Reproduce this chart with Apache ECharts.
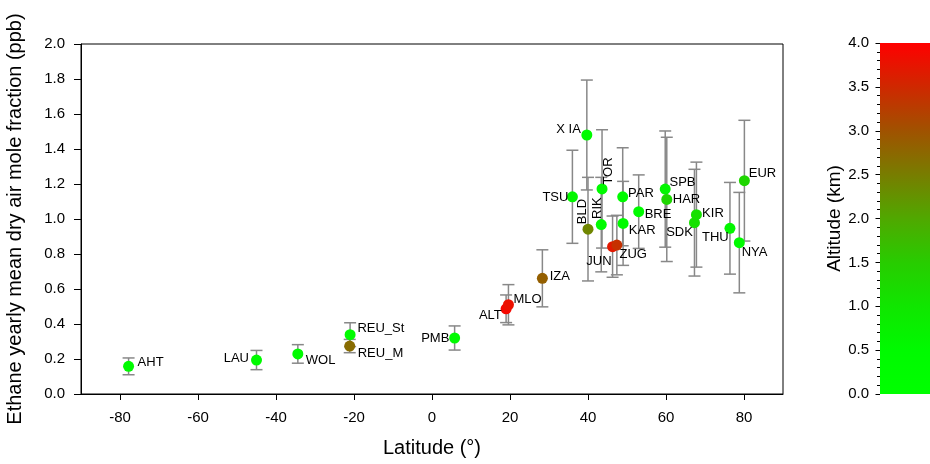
<!DOCTYPE html>
<html>
<head>
<meta charset="utf-8">
<script src="https://cdn.jsdelivr.net/npm/echarts@6/dist/echarts.min.js"></script>
<style>
html,body{margin:0;padding:0;background:#fff;}
#chart{width:930px;height:464px;}
</style>
</head>
<body>
<div id="chart"></div>
<script>
// ---- data ----
const stations = ['AHT','LAU','WOL','REU_St','REU_M','PMB','ALT','MLO','IZA','TSU','X IA','BLD','RIK','TOR','JUN','ZUG','PAR','KAR','BRE','SPB','HAR','SDK','KIR','THU','NYA','EUR'];
const latitude = [-77.8,-45.0,-34.4,-21.0,-21.1,5.8,19.0,19.6,28.3,36.0,39.7,40.0,43.4,43.6,46.3,47.4,48.9,49.0,53.0,59.8,60.2,67.3,67.8,76.4,78.8,80.1];
const ethane = [0.158,0.194,0.229,0.339,0.274,0.320,0.487,0.510,0.661,1.127,1.480,0.942,0.968,1.172,0.842,0.851,1.127,0.975,1.042,1.171,1.112,0.979,1.025,0.947,0.865,1.219];
const ethaneErr = [0.048,0.055,0.053,0.068,0.038,0.069,0.079,0.115,0.163,0.266,0.314,0.296,0.270,0.338,0.175,0.170,0.280,0.240,0.210,0.332,0.355,0.305,0.300,0.262,0.287,0.345];
const altitude = [0.4,0.4,0.4,0.4,2.7,0.4,3.9,3.8,2.85,0.6,0.4,2.4,0.4,0.4,3.7,3.4,0.4,0.4,0.4,0.6,1.3,1.1,1.1,0.6,0.4,1.3];
const xTickValues = [-80,-60,-40,-20,0,20,40,60,80];
const altitudeRange = [0, 4];

// ---- styles ----
const FONT = "'Liberation Sans', Arial, sans-serif";
const altColors = ['#00ff00','#00fa00','#10e600','#28cc00','#50a800','#787d00','#a05200','#cf2800','#ff0000'];
// label placement: [dx, dy, align, rotated]
const labelLayout = {
  'AHT':[9,-4,'left',0],'LAU':[-7.5,-2,'right',0],'WOL':[8,6,'left',0],
  'REU_St':[7.3,-6,'left',0],'REU_M':[8,7,'left',0],'PMB':[-5.3,0,'right',0],
  'ALT':[-4.3,7,'right',0],'MLO':[5,-5,'left',0],'IZA':[7.3,-2,'left',0],
  'TSU':[-4,1,'right',0],'X IA':[-6,-6,'right',0],'BLD':[-5.4,-5,'left',1],
  'RIK':[-4.3,-5.7,'left',1],'TOR':[6.6,-4.3,'left',1],'JUN':[-1,14.5,'right',0],
  'ZUG':[2.6,9,'left',0],'PAR':[5.3,-3,'left',0],'KAR':[5.7,7,'left',0],
  'BRE':[6,3,'left',0],'SPB':[4.3,-7,'left',0],'HAR':[6,0,'left',0],
  'SDK':[-1.6,10,'right',0],'KIR':[5.7,-1,'left',0],'THU':[-1.3,9,'right',0],
  'NYA':[2.4,10,'left',0],'EUR':[4.4,-7,'left',0]
};

const pointData = stations.map((s,i)=>[latitude[i], ethane[i], altitude[i], s]);
const errData = stations.map((s,i)=>[latitude[i], ethane[i]-ethaneErr[i], ethane[i]+ethaneErr[i]]);
const labelData = stations.map((s,i)=>[latitude[i], ethane[i], i]);

const chart = echarts.init(document.getElementById('chart'), null, {renderer:'canvas'});

const gradStops = altColors.map((c,i)=>({offset: i/(altColors.length-1), color: c}));

const option = {
  animation: false,
  backgroundColor: '#fff',
  textStyle: {fontFamily: FONT},
  grid: [
    {left: 81, top: 44, width: 702, height: 350, show: true, borderColor: '#000', borderWidth: 1, containLabel: false, outerBoundsMode: 'none'},
    {left: 880, top: 43, width: 50, height: 351, show: false, containLabel: false, outerBoundsMode: 'none'}
  ],
  xAxis: [
    {
      gridIndex: 0, type: 'value', min: -90, max: 90, position: 'bottom',
      name: 'Latitude (°)', nameLocation: 'middle', nameGap: 44,
      nameTextStyle: {fontSize: 20, color: '#000', fontFamily: FONT},
      axisLine: {show: true, onZero: false, lineStyle: {color: '#000', width: 1}},
      axisTick: {show: true, length: 6, lineStyle: {color: '#000'}, customValues: xTickValues},
      axisLabel: {fontSize: 15, color: '#000', margin: 16, fontFamily: FONT, customValues: xTickValues},
      splitLine: {show: false}
    },
    {gridIndex: 1, type: 'category', data: ['alt'], show: false, boundaryGap: true}
  ],
  yAxis: [
    {
      gridIndex: 0, type: 'value', min: 0, max: 2, interval: 0.2, position: 'left',
      name: 'Ethane yearly mean dry air mole fraction (ppb)', nameLocation: 'middle', nameGap: 56,
      nameTextStyle: {fontSize: 20, color: '#000', fontFamily: FONT},
      axisLine: {show: true, onZero: false, lineStyle: {color: '#000', width: 1}},
      axisTick: {show: true, length: 7, lineStyle: {color: '#000'}},
      axisLabel: {fontSize: 15, color: '#000', margin: 16, fontFamily: FONT, formatter: v => v.toFixed(1)},
      splitLine: {show: false}
    },
    {
      gridIndex: 1, type: 'value', min: altitudeRange[0], max: altitudeRange[1], interval: 0.5, position: 'left',
      name: 'Altitude (km)', nameLocation: 'middle', nameGap: 35,
      nameTextStyle: {fontSize: 19, color: '#000', fontFamily: FONT},
      axisLine: {show: false, onZero: false},
      axisTick: {show: true, length: 4.5, lineStyle: {color: '#000'}},
      minorTick: {show: true, splitNumber: 5, length: 3, lineStyle: {color: '#000'}},
      axisLabel: {fontSize: 15, color: '#000', margin: 11, fontFamily: FONT, formatter: v => v.toFixed(1)},
      splitLine: {show: false}
    }
  ],
  visualMap: {
    type: 'continuous', show: false, min: altitudeRange[0], max: altitudeRange[1],
    dimension: 2, seriesIndex: 1, inRange: {color: altColors}
  },
  series: [
    {
      type: 'custom', xAxisIndex: 0, yAxisIndex: 0, z: 2, silent: true,
      data: errData, encode: {x: 0, y: [1, 2]},
      renderItem: function(params, api){
        const x = api.value(0);
        const lo = api.coord([x, api.value(1)]);
        const hi = api.coord([x, api.value(2)]);
        const hw = 6;
        const st = {stroke: '#888', lineWidth: 1.5};
        return {type: 'group', children: [
          {type: 'line', shape: {x1: lo[0], y1: lo[1], x2: hi[0], y2: hi[1]}, style: st},
          {type: 'line', shape: {x1: lo[0]-hw, y1: lo[1], x2: lo[0]+hw, y2: lo[1]}, style: st},
          {type: 'line', shape: {x1: hi[0]-hw, y1: hi[1], x2: hi[0]+hw, y2: hi[1]}, style: st}
        ]};
      }
    },
    {
      type: 'scatter', xAxisIndex: 0, yAxisIndex: 0, z: 3,
      symbol: 'circle', symbolSize: 11,
      data: pointData, encode: {x: 0, y: 1},
      itemStyle: {opacity: 1}
    },
    {
      type: 'custom', xAxisIndex: 0, yAxisIndex: 0, z: 4, silent: true,
      data: labelData, encode: {x: 0, y: 1},
      renderItem: function(params, api){
        const p = api.coord([api.value(0), api.value(1)]);
        const name = stations[api.value(2)];
        const L = labelLayout[name];
        return {
          type: 'text',
          x: p[0] + L[0], y: p[1] + L[1],
          rotation: L[3] ? Math.PI/2 : 0,
          style: {text: name, fill: '#000', fontSize: 13, fontFamily: FONT,
                  align: L[2], verticalAlign: 'middle'}
        };
      }
    },
    {
      type: 'bar', xAxisIndex: 1, yAxisIndex: 1, silent: true,
      data: [altitudeRange[1]], barWidth: '100%', barCategoryGap: '0%',
      itemStyle: {color: new echarts.graphic.LinearGradient(0, 1, 0, 0, gradStops)}
    }
  ]
};
chart.setOption(option);
</script>
</body>
</html>
